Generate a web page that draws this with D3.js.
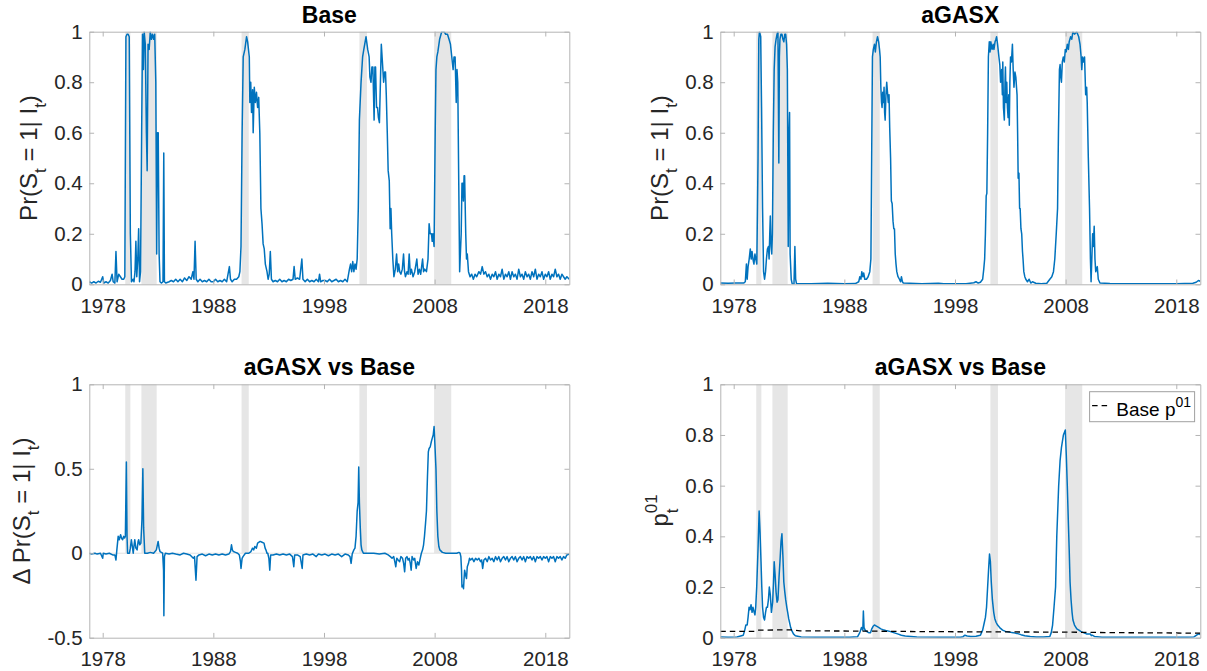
<!DOCTYPE html>
<html><head><meta charset="utf-8">
<script src="https://cdn.jsdelivr.net/npm/d3@7"></script>
<style>html,body{margin:0;padding:0;background:#fff}svg{display:block}</style>
</head><body>
<svg id="c" width="1207" height="671"></svg>
<script>
// ---------------- data ----------------
const xTickYears = [1978, 1988, 1998, 2008, 2018];
const probTicks = [0, 0.2, 0.4, 0.6, 0.8, 1];
const deltaTicks = [-0.5, 0, 0.5, 1];
const recessionStart = [1980.04, 1981.5, 1990.55, 2001.2, 2007.95];
const recessionEnd   = [1980.5, 1982.88, 1991.2, 2001.88, 2009.5];

// Base model: Pr(S_t = 1 | I_t)   [year, value]
const baseProb = [
[1976.8,0.01],[1977.0,0.005],[1977.2,0.01],[1977.4,0.005],[1977.6,0.012],[1977.8,0.008],[1978.0,0.03],[1978.1,0.005],[1978.3,0.01],[1978.5,0.005],[1978.7,0.015],[1978.85,0.04],[1978.95,0.01],[1979.1,0.005],[1979.2,0.13],[1979.3,0.01],[1979.45,0.04],[1979.6,0.03],[1979.75,0.02],[1979.9,0.02],[1980.0,0.03],
[1980.1,0.98],[1980.2,0.99],[1980.3,0.99],[1980.4,0.98],[1980.5,0.2],[1980.6,0.01],[1980.75,0.02],[1980.83,0.01],[1980.92,0.05],[1981.0,0.17],[1981.08,0.03],[1981.17,0.1],[1981.25,0.22],[1981.33,0.01],[1981.42,0.05],
[1981.52,0.6],[1981.6,0.99],[1981.68,0.85],[1981.75,1.0],[1981.85,0.95],[1981.95,0.6],[1982.02,0.45],[1982.1,0.95],[1982.2,0.93],[1982.3,1.0],[1982.4,0.97],[1982.5,0.99],[1982.6,0.97],[1982.7,0.99],[1982.8,0.8],[1982.88,0.12],[1982.95,0.6],[1983.02,0.6],[1983.1,0.12],[1983.18,0.01],[1983.3,0.005],[1983.45,0.01],[1983.52,0.52],[1983.58,0.01],[1983.7,0.005],
[1984.0,0.01],[1984.2,0.015],[1984.4,0.01],[1984.6,0.02],[1984.8,0.01],[1985.0,0.02],[1985.2,0.01],[1985.4,0.025],[1985.6,0.015],[1985.8,0.03],[1986.0,0.02],[1986.15,0.05],[1986.25,0.02],[1986.35,0.17],[1986.45,0.02],[1986.6,0.01],[1986.8,0.02],[1987.0,0.01],[1987.2,0.015],[1987.4,0.01],[1987.6,0.02],[1987.8,0.01],[1988.0,0.01],[1988.2,0.02],[1988.4,0.01],[1988.6,0.015],[1988.8,0.01],[1989.0,0.02],[1989.2,0.01],[1989.45,0.07],[1989.55,0.02],[1989.7,0.01],[1989.9,0.02],[1990.1,0.02],[1990.3,0.03],[1990.4,0.05],
[1990.5,0.15],[1990.6,0.6],[1990.7,0.9],[1990.85,0.93],[1991.0,0.98],[1991.1,0.96],[1991.25,0.9],[1991.3,0.72],[1991.38,0.8],[1991.45,0.68],[1991.55,0.77],[1991.6,0.6],[1991.7,0.78],[1991.8,0.72],[1991.9,0.76],[1992.0,0.7],[1992.1,0.74],[1992.2,0.6],[1992.3,0.3],[1992.4,0.24],[1992.5,0.16],[1992.6,0.14],[1992.7,0.08],[1992.85,0.05],[1992.95,0.02],[1993.05,0.04],[1993.15,0.13],[1993.25,0.02],[1993.4,0.01],[1993.6,0.015],
[1993.8,0.01],[1994.0,0.02],[1994.2,0.01],[1994.4,0.015],[1994.6,0.01],[1994.8,0.02],[1995.0,0.015],[1995.2,0.02],[1995.3,0.07],[1995.4,0.02],[1995.6,0.025],[1995.8,0.02],[1996.0,0.1],[1996.1,0.02],[1996.3,0.01],[1996.5,0.02],[1996.7,0.01],[1996.9,0.015],[1997.1,0.01],[1997.3,0.02],[1997.5,0.01],[1997.6,0.04],[1997.7,0.01],[1997.9,0.015],[1998.1,0.015],[1998.3,0.01],[1998.5,0.02],[1998.7,0.01],[1998.9,0.015],[1999.1,0.02],[1999.3,0.01],[1999.5,0.015],[1999.7,0.01],[1999.9,0.02],[2000.1,0.01],
[2000.3,0.06],[2000.4,0.08],[2000.5,0.05],[2000.6,0.09],[2000.7,0.05],[2000.8,0.08],[2000.9,0.06],[2001.0,0.1],[2001.1,0.3],[2001.2,0.65],[2001.35,0.8],[2001.49,0.9],[2001.6,0.93],[2001.8,0.98],[2001.95,0.93],[2002.08,0.9],[2002.15,0.82],[2002.25,0.8],[2002.33,0.86],[2002.42,0.86],[2002.53,0.65],[2002.6,0.86],[2002.66,0.86],[2002.75,0.7],[2002.84,0.7],[2002.92,0.66],[2003.01,0.64],[2003.1,0.8],[2003.18,0.95],[2003.28,0.88],[2003.39,0.8],[2003.48,0.84],[2003.56,0.84],[2003.63,0.75],[2003.72,0.6],[2003.8,0.45],[2003.9,0.41],[2003.98,0.22],[2004.05,0.3],[2004.12,0.2],[2004.22,0.1],[2004.32,0.03],[2004.45,0.06],[2004.56,0.12],[2004.66,0.05],[2004.75,0.08],[2004.84,0.05],[2004.95,0.04],[2005.08,0.06],[2005.19,0.12],[2005.28,0.05],[2005.36,0.03],[2005.5,0.05],[2005.6,0.04],[2005.7,0.12],[2005.8,0.04],[2005.9,0.06],[2006.05,0.03],[2006.2,0.05],[2006.39,0.1],[2006.5,0.04],[2006.62,0.06],[2006.74,0.04],[2006.91,0.1],[2007.0,0.05],[2007.1,0.06],[2007.26,0.05],[2007.4,0.1],[2007.5,0.24],[2007.6,0.2],[2007.71,0.2],[2007.78,0.17],[2007.84,0.2],[2007.95,0.15],
[2008.05,0.6],[2008.12,0.85],[2008.2,0.9],[2008.29,0.92],[2008.45,0.97],[2008.64,1.0],[2008.85,1.0],[2009.0,0.99],[2009.16,0.99],[2009.3,0.97],[2009.43,0.95],[2009.55,0.9],[2009.67,0.85],[2009.75,0.9],[2009.85,0.9],[2009.95,0.72],[2010.02,0.85],[2010.09,0.8],[2010.18,0.4],[2010.26,0.05],[2010.4,0.2],[2010.47,0.4],[2010.54,0.4],[2010.6,0.33],[2010.66,0.43],[2010.71,0.43],[2010.81,0.2],[2010.88,0.1],[2010.95,0.12],[2011.06,0.05],
[2011.2,0.03],[2011.35,0.04],[2011.5,0.02],[2011.65,0.04],[2011.8,0.03],[2012.0,0.05],[2012.15,0.04],[2012.3,0.07],[2012.45,0.04],[2012.6,0.05],[2012.75,0.03],[2012.9,0.04],[2013.05,0.02],[2013.2,0.04],[2013.35,0.03],[2013.5,0.05],[2013.65,0.02],[2013.8,0.04],[2013.95,0.03],[2014.1,0.06],[2014.25,0.02],[2014.4,0.04],[2014.55,0.03],[2014.7,0.05],[2014.85,0.02],[2015.0,0.05],[2015.15,0.03],[2015.3,0.04],[2015.45,0.02],[2015.6,0.06],[2015.75,0.03],[2015.9,0.04],[2016.05,0.02],[2016.2,0.05],[2016.35,0.03],[2016.5,0.04],[2016.65,0.02],[2016.8,0.05],[2016.95,0.03],[2017.1,0.06],[2017.25,0.02],[2017.4,0.04],[2017.55,0.03],[2017.7,0.05],[2017.85,0.02],[2018.0,0.04],[2018.15,0.03],[2018.3,0.05],[2018.45,0.02],[2018.6,0.04],[2018.75,0.03],[2018.9,0.06],[2019.05,0.03],[2019.2,0.04],[2019.35,0.02],[2019.5,0.04],[2019.65,0.03],[2019.8,0.02],[2019.95,0.03],[2020.17,0.02]
];

// aGASX model: Pr(S_t = 1 | I_t)
const agasxProb = [
[1976.8,0.005],[1977.5,0.004],[1978.2,0.005],[1978.9,0.005],[1979.05,0.01],[1979.15,0.08],[1979.22,0.02],[1979.3,0.07],[1979.4,0.1],[1979.5,0.14],[1979.58,0.1],[1979.66,0.13],[1979.74,0.1],[1979.83,0.08],[1979.92,0.12],[1980.0,0.1],[1980.09,0.08],[1980.15,0.3],[1980.2,0.5],[1980.27,0.97],[1980.33,1.0],[1980.44,0.98],[1980.52,0.7],[1980.61,0.3],[1980.7,0.05],[1980.79,0.02],[1980.88,0.05],[1980.96,0.1],[1981.05,0.14],[1981.14,0.15],[1981.2,0.1],[1981.26,0.2],[1981.31,0.27],[1981.38,0.15],[1981.44,0.12],[1981.5,0.2],[1981.58,0.6],[1981.66,0.85],[1981.74,0.94],[1981.83,0.97],[1981.92,0.99],[1982.0,1.0],[1982.08,0.48],[1982.13,0.9],[1982.18,0.97],[1982.27,0.99],[1982.36,0.99],[1982.45,0.97],[1982.53,0.96],[1982.62,0.99],[1982.7,0.99],[1982.78,0.95],[1982.85,0.85],[1982.93,0.15],[1983.0,0.6],[1983.05,0.68],[1983.1,0.12],[1983.2,0.02],[1983.3,0.0],[1983.45,0.0],[1983.53,0.15],[1983.6,0.02],[1983.68,0.002],
[1985.0,0.002],[1986.5,0.004],[1988.0,0.002],[1989.0,0.003],[1989.3,0.01],[1989.4,0.03],[1989.5,0.02],[1989.58,0.05],[1989.67,0.03],[1989.75,0.045],[1989.85,0.02],[1990.0,0.02],[1990.15,0.03],[1990.3,0.05],[1990.4,0.1],[1990.47,0.5],[1990.54,0.9],[1990.62,0.93],[1990.72,0.95],[1990.8,0.92],[1990.9,0.96],[1991.0,0.98],[1991.1,0.96],[1991.18,0.93],[1991.24,0.9],[1991.3,0.78],[1991.36,0.72],[1991.41,0.7],[1991.47,0.76],[1991.53,0.72],[1991.59,0.78],[1991.64,0.68],[1991.69,0.65],[1991.76,0.75],[1991.83,0.8],[1991.9,0.76],[1991.97,0.72],[1992.04,0.75],[1992.1,0.62],[1992.18,0.5],[1992.25,0.33],[1992.32,0.32],[1992.4,0.25],[1992.47,0.22],[1992.53,0.22],[1992.6,0.12],[1992.67,0.08],[1992.74,0.05],[1992.85,0.03],[1992.98,0.02],[1993.08,0.01],[1993.16,0.03],[1993.25,0.01],[1993.33,0.005],
[1995.0,0.002],[1996.5,0.004],[1997.0,0.002],[1999.0,0.002],[1999.7,0.006],[1999.9,0.01],[2000.1,0.005],[2000.3,0.008],[2000.5,0.02],[2000.6,0.06],[2000.68,0.1],[2000.75,0.2],[2000.82,0.35],[2000.88,0.36],[2000.95,0.6],[2001.02,0.9],[2001.1,0.96],[2001.17,0.92],[2001.24,0.96],[2001.35,0.93],[2001.45,0.95],[2001.52,0.93],[2001.62,0.96],[2001.7,0.97],[2001.76,0.98],[2001.85,0.95],[2001.97,0.9],[2002.05,0.87],[2002.12,0.8],[2002.22,0.85],[2002.28,0.75],[2002.32,0.88],[2002.38,0.7],[2002.46,0.65],[2002.52,0.8],[2002.56,0.86],[2002.62,0.72],[2002.68,0.8],[2002.74,0.7],[2002.8,0.66],[2002.86,0.75],[2002.91,0.63],[2002.96,0.8],[2003.02,0.9],[2003.1,0.88],[2003.19,0.95],[2003.26,0.85],[2003.33,0.78],[2003.42,0.84],[2003.5,0.82],[2003.56,0.78],[2003.61,0.75],[2003.66,0.6],[2003.71,0.42],[2003.78,0.44],[2003.84,0.3],[2003.89,0.3],[2003.96,0.22],[2004.03,0.2],[2004.1,0.13],[2004.15,0.1],[2004.22,0.05],[2004.31,0.03],[2004.4,0.02],[2004.55,0.01],[2004.7,0.02],[2004.85,0.005],[2005.0,0.01],[2005.3,0.004],[2005.8,0.002],[2006.3,0.004],
[2006.57,0.02],[2006.75,0.03],[2006.9,0.05],[2007.02,0.1],[2007.15,0.2],[2007.27,0.3],[2007.35,0.6],[2007.44,0.85],[2007.5,0.87],[2007.56,0.82],[2007.62,0.8],[2007.7,0.88],[2007.79,0.9],[2007.88,0.88],[2007.97,0.93],[2008.05,0.92],[2008.15,0.95],[2008.25,0.93],[2008.32,0.96],[2008.45,0.98],[2008.55,0.97],[2008.66,1.0],[2008.8,0.99],[2009.0,1.0],[2009.18,0.98],[2009.3,0.95],[2009.4,0.9],[2009.46,0.85],[2009.53,0.9],[2009.6,0.88],[2009.71,0.9],[2009.81,0.75],[2009.9,0.78],[2009.95,0.72],[2010.05,0.5],[2010.16,0.3],[2010.24,0.1],[2010.3,0.01],[2010.44,0.2],[2010.5,0.15],[2010.58,0.23],[2010.65,0.1],[2010.72,0.05],[2010.86,0.07],[2010.95,0.02],[2011.1,0.005],
[2012.0,0.003],[2014.0,0.002],[2016.0,0.002],[2018.0,0.002],[2019.5,0.004],[2019.8,0.008],[2020.0,0.015],[2020.17,0.012]
];

// Difference aGASX - Base
const deltaProb = [
[1976.8,0.0],[1977.0,-0.005],[1977.3,0.0],[1977.5,-0.005],[1977.8,0.0],[1978.0,-0.03],[1978.05,0.0],[1978.3,-0.005],[1978.6,0.0],[1978.9,-0.01],[1979.1,-0.01],[1979.2,-0.04],[1979.28,0.02],[1979.4,0.1],[1979.5,0.08],[1979.62,0.11],[1979.7,0.09],[1979.8,0.08],[1979.9,0.1],[1979.97,0.09],[1980.05,0.1],[1980.14,0.54],[1980.2,0.1],[1980.25,0.0],[1980.42,0.0],[1980.5,0.03],[1980.59,0.08],[1980.68,0.04],[1980.76,0.0],[1980.84,0.05],[1980.9,0.08],[1981.0,0.03],[1981.11,0.02],[1981.2,0.07],[1981.25,0.08],[1981.35,0.05],[1981.45,0.06],[1981.55,0.2],[1981.63,0.5],[1981.7,0.15],[1981.8,0.0],[1982.04,0.0],[1982.3,0.005],[1982.6,0.0],[1982.85,0.02],[1983.01,0.07],[1983.1,0.03],[1983.18,0.01],[1983.42,0.0],[1983.5,-0.1],[1983.53,-0.37],[1983.58,-0.02],[1983.66,0.0],
[1984.0,-0.005],[1984.3,0.0],[1984.6,-0.005],[1985.0,-0.01],[1985.3,0.0],[1985.6,-0.005],[1985.9,-0.01],[1986.19,-0.03],[1986.3,-0.02],[1986.43,-0.16],[1986.53,-0.02],[1986.7,-0.01],[1987.0,-0.005],[1987.3,-0.015],[1987.6,-0.005],[1987.9,-0.01],[1988.2,-0.005],[1988.5,-0.01],[1988.8,-0.005],[1989.1,-0.01],[1989.4,-0.005],[1989.55,0.01],[1989.64,0.05],[1989.72,0.02],[1989.81,0.01],[1990.0,0.005],[1990.2,0.0],[1990.35,-0.01],[1990.45,-0.05],[1990.5,-0.09],[1990.6,-0.03],[1990.68,-0.02],[1990.9,0.0],[1991.2,0.0],[1991.4,0.01],[1991.54,0.03],[1991.65,0.02],[1991.75,0.04],[1991.89,0.03],[1992.0,0.06],[1992.23,0.07],[1992.4,0.065],[1992.58,0.06],[1992.68,0.03],[1992.75,0.02],[1992.85,0.0],[1992.92,0.0],[1993.02,-0.03],[1993.1,-0.1],[1993.18,-0.01],[1993.4,-0.01],[1993.7,-0.005],[1994.0,-0.01],[1994.3,-0.005],[1994.6,-0.01],[1994.9,-0.005],[1995.15,-0.02],[1995.27,-0.08],[1995.35,-0.01],[1995.6,-0.01],[1995.85,-0.02],[1996.03,-0.09],[1996.1,-0.01],[1996.4,-0.005],[1996.7,-0.01],[1997.0,-0.005],[1997.3,-0.02],[1997.5,-0.005],[1997.8,-0.01],[1998.1,-0.005],[1998.4,-0.015],[1998.7,-0.005],[1999.0,-0.01],[1999.3,-0.005],[1999.6,-0.02],[1999.9,-0.005],[2000.2,-0.01],[2000.35,-0.02],[2000.45,-0.06],[2000.55,-0.005],[2000.7,0.02],[2000.8,0.03],[2000.9,0.1],[2001.0,0.25],[2001.08,0.3],[2001.14,0.51],[2001.2,0.3],[2001.28,0.15],[2001.35,0.05],[2001.42,0.02],[2001.56,0.0],[2002.0,0.0],[2002.5,0.0],[2003.0,-0.005],[2003.5,0.0],[2003.8,-0.01],[2004.0,-0.02],[2004.15,-0.03],[2004.3,-0.02],[2004.4,-0.05],[2004.49,-0.08],[2004.58,-0.03],[2004.7,-0.04],[2004.84,-0.05],[2004.95,-0.02],[2005.1,-0.03],[2005.2,-0.06],[2005.29,-0.11],[2005.38,-0.03],[2005.5,-0.02],[2005.6,-0.04],[2005.7,-0.03],[2005.8,-0.06],[2005.88,-0.1],[2005.96,-0.02],[2006.1,-0.04],[2006.2,-0.03],[2006.33,-0.09],[2006.45,-0.05],[2006.57,-0.07],[2006.7,-0.03],[2006.8,0.0],[2006.91,0.02],[2007.0,0.05],[2007.08,0.1],[2007.18,0.18],[2007.26,0.25],[2007.35,0.45],[2007.43,0.6],[2007.5,0.62],[2007.6,0.63],[2007.7,0.66],[2007.78,0.68],[2007.87,0.7],[2007.95,0.75],[2008.02,0.65],[2008.12,0.5],[2008.2,0.25],[2008.29,0.1],[2008.38,0.04],[2008.47,0.02],[2008.7,0.005],[2009.0,0.0],[2009.5,0.0],[2010.0,0.0],[2010.19,0.005],[2010.3,0.0],[2010.37,-0.02],[2010.43,-0.1],[2010.47,-0.2],[2010.55,-0.19],[2010.61,-0.21],[2010.66,-0.15],[2010.71,-0.1],[2010.8,-0.13],[2010.88,-0.15],[2010.95,-0.08],[2011.06,-0.06],
[2011.15,-0.03],[2011.25,-0.04],[2011.4,-0.03],[2011.55,-0.05],[2011.7,-0.03],[2011.85,-0.04],[2012.0,-0.03],[2012.15,-0.05],[2012.25,-0.04],[2012.34,-0.09],[2012.45,-0.04],[2012.6,-0.03],[2012.75,-0.05],[2012.9,-0.02],[2013.05,-0.04],[2013.2,-0.03],[2013.35,-0.05],[2013.5,-0.02],[2013.65,-0.04],[2013.8,-0.02],[2013.95,-0.05],[2014.1,-0.03],[2014.25,-0.02],[2014.4,-0.04],[2014.55,-0.02],[2014.7,-0.05],[2014.85,-0.03],[2015.0,-0.02],[2015.15,-0.04],[2015.3,-0.02],[2015.45,-0.05],[2015.6,-0.03],[2015.75,-0.02],[2015.9,-0.04],[2016.05,-0.02],[2016.2,-0.05],[2016.35,-0.02],[2016.5,-0.03],[2016.65,-0.02],[2016.8,-0.04],[2016.95,-0.02],[2017.1,-0.05],[2017.25,-0.02],[2017.4,-0.03],[2017.55,-0.02],[2017.7,-0.04],[2017.85,-0.02],[2018.0,-0.03],[2018.15,-0.02],[2018.3,-0.05],[2018.45,-0.02],[2018.6,-0.03],[2018.75,-0.02],[2018.9,-0.05],[2019.05,-0.02],[2019.2,-0.03],[2019.35,-0.02],[2019.5,-0.04],[2019.65,-0.02],[2019.8,-0.03],[2019.95,-0.01],[2020.17,-0.005]
];

// aGASX time-varying transition probability p_t^01
const agasxP01 = [
[1976.8,0.003],[1977.5,0.002],[1978.3,0.003],[1978.87,0.01],[1979.0,0.03],[1979.1,0.05],[1979.22,0.05],[1979.3,0.08],[1979.39,0.12],[1979.47,0.11],[1979.57,0.13],[1979.66,0.1],[1979.74,0.12],[1979.85,0.1],[1979.92,0.09],[1979.99,0.12],[1980.08,0.2],[1980.2,0.35],[1980.3,0.5],[1980.38,0.42],[1980.47,0.3],[1980.54,0.2],[1980.61,0.12],[1980.7,0.08],[1980.79,0.07],[1980.88,0.1],[1980.96,0.12],[1981.05,0.12],[1981.14,0.15],[1981.22,0.2],[1981.31,0.17],[1981.41,0.1],[1981.52,0.14],[1981.6,0.22],[1981.66,0.3],[1981.74,0.25],[1981.83,0.18],[1981.92,0.14],[1982.0,0.15],[1982.1,0.24],[1982.18,0.3],[1982.28,0.38],[1982.36,0.41],[1982.45,0.32],[1982.53,0.22],[1982.62,0.18],[1982.7,0.15],[1982.8,0.12],[1982.88,0.1],[1982.97,0.075],[1983.05,0.06],[1983.15,0.04],[1983.23,0.03],[1983.4,0.015],[1983.57,0.008],[1984.1,0.003],
[1985.5,0.002],[1987.0,0.002],[1988.5,0.002],[1989.2,0.004],[1989.4,0.02],[1989.55,0.04],[1989.67,0.03],[1989.72,0.105],[1989.78,0.04],[1989.88,0.03],[1990.0,0.025],[1990.2,0.02],[1990.37,0.02],[1990.48,0.035],[1990.6,0.045],[1990.72,0.05],[1990.9,0.046],[1991.06,0.042],[1991.3,0.035],[1991.59,0.03],[1991.85,0.027],[1992.11,0.025],[1992.45,0.02],[1992.81,0.015],[1993.15,0.01],[1993.5,0.007],[1994.0,0.005],[1994.55,0.003],[1996.64,0.002],[1998.5,0.002],[1998.73,0.004],[1998.9,0.01],[1999.1,0.007],[1999.43,0.005],[1999.9,0.006],
[2000.3,0.01],[2000.5,0.03],[2000.65,0.06],[2000.75,0.08],[2000.85,0.12],[2000.95,0.2],[2001.05,0.28],[2001.12,0.33],[2001.2,0.3],[2001.28,0.22],[2001.38,0.15],[2001.5,0.1],[2001.6,0.075],[2001.72,0.06],[2001.85,0.05],[2002.04,0.04],[2002.3,0.03],[2002.56,0.025],[2002.9,0.022],[2003.26,0.02],[2003.6,0.017],[2003.96,0.012],[2004.31,0.008],[2004.8,0.005],[2005.35,0.003],[2006.0,0.003],[2006.57,0.005],[2006.7,0.02],[2006.82,0.05],[2006.95,0.12],[2007.09,0.2],[2007.2,0.4],[2007.37,0.6],[2007.5,0.7],[2007.62,0.75],[2007.8,0.8],[2007.97,0.82],[2008.06,0.72],[2008.15,0.6],[2008.25,0.45],[2008.32,0.35],[2008.4,0.22],[2008.49,0.15],[2008.58,0.1],[2008.66,0.07],[2008.8,0.05],[2009.01,0.035],[2009.2,0.03],[2009.36,0.025],[2009.6,0.02],[2009.88,0.015],[2010.1,0.015],[2010.23,0.015],[2010.32,0.008],[2010.4,0.01],[2010.6,0.005],[2011.28,0.002],
[2013.0,0.002],[2015.0,0.002],[2017.0,0.002],[2019.0,0.002],[2019.6,0.003],[2019.9,0.012],[2020.05,0.015],[2020.17,0.012]
];

// Base model constant-ish p^01 (dashed)
const baseP01 = [
[1976.79,0.025],[1979.9,0.025],[1980.2,0.03],[1983.3,0.031],[1984.0,0.027],[1990.0,0.026],[1995.0,0.024],[2001.0,0.023],[2008.0,0.022],[2012.0,0.02],[2020.17,0.018]
];

const titles = ["Base", "aGASX", "aGASX vs Base", "aGASX vs Base"];

// ---------------- drawing ----------------
const FONT = '"Liberation Sans", Arial, Helvetica, sans-serif';
const TXT = "#262626", AX = "#b4b4b4", BLUE = "#0072BD", SHADE = "#e6e6e6";
const xDomain = [1976.79, 2020.17];
const svg = d3.select("#c");
const fmtY = d => String(+(+d).toFixed(2));

const panels = [
  {left:89.3, top:31.7, w:480, h:252.6, yDom:[0,1], yTicks:probTicks, title:titles[0], data:baseProb, lab:"pr", labX:37},
  {left:720.3, top:31.7, w:480, h:252.6, yDom:[0,1], yTicks:probTicks, title:titles[1], data:agasxProb, lab:"pr", labX:668},
  {left:89.3, top:384.3, w:480, h:253.4, yDom:[-0.5,1], yTicks:deltaTicks, title:titles[2], data:deltaProb, lab:"dpr", labX:30},
  {left:720.3, top:384.3, w:480, h:253.4, yDom:[0,1], yTicks:probTicks, title:titles[3], data:agasxP01, lab:"p01", labX:668, dashed:baseP01, legend:true}
];

panels.forEach((p, i) => {
  const x = d3.scaleLinear().domain(xDomain).range([p.left, p.left + p.w]);
  const y = d3.scaleLinear().domain(p.yDom).range([p.top + p.h, p.top]);
  const g = svg.append("g");

  const clipId = "clip" + i;
  svg.append("clipPath").attr("id", clipId).append("rect")
    .attr("x", p.left).attr("y", p.top).attr("width", p.w).attr("height", p.h);

  // recession shading (area from 0 to 1)
  g.append("g").selectAll("rect").data(d3.range(recessionStart.length)).join("rect")
    .attr("x", k => x(recessionStart[k]))
    .attr("width", k => x(recessionEnd[k]) - x(recessionStart[k]))
    .attr("y", y(1)).attr("height", y(0) - y(1))
    .attr("fill", SHADE);

  if (p.yDom[0] < 0) {
    g.append("line").attr("x1", p.left).attr("x2", p.left + p.w)
      .attr("y1", y(0)).attr("y2", y(0)).attr("stroke", "#e2e2e2").attr("stroke-width", 1);
  }

  const line = d3.line().x(d => x(d[0])).y(d => y(d[1]));
  g.append("path").datum(p.data).attr("d", line)
    .attr("fill", "none").attr("stroke", BLUE).attr("stroke-width", 1.5)
    .attr("stroke-linejoin", "round").attr("clip-path", `url(#${clipId})`);

  if (p.dashed) {
    g.append("path").datum(p.dashed).attr("d", line)
      .attr("fill", "none").attr("stroke", "#000").attr("stroke-width", 1.3)
      .attr("stroke-dasharray", "5.5,4").attr("clip-path", `url(#${clipId})`);
  }

  // axes (box with inward ticks on all sides)
  const tl = 4.8;
  const style = sel => {
    sel.attr("font-family", FONT).attr("font-size", 20.5);
    sel.select(".domain").attr("stroke", AX).attr("stroke-width", 1);
    sel.selectAll(".tick line").attr("stroke", AX);
    sel.selectAll(".tick text").attr("fill", TXT);
  };
  svg.append("g").attr("transform", `translate(0,${p.top + p.h})`)
    .call(d3.axisBottom(x).tickValues(xTickYears).tickFormat(d => String(d)).tickSizeInner(-tl).tickSizeOuter(0).tickPadding(14))
    .call(style);
  svg.append("g").attr("transform", `translate(0,${p.top})`)
    .call(d3.axisTop(x).tickValues(xTickYears).tickFormat("").tickSizeInner(-tl).tickSizeOuter(0))
    .call(style);
  svg.append("g").attr("transform", `translate(${p.left},0)`)
    .call(d3.axisLeft(y).tickValues(p.yTicks).tickFormat(fmtY).tickSizeInner(-tl).tickSizeOuter(0).tickPadding(6.6))
    .call(style);
  svg.append("g").attr("transform", `translate(${p.left + p.w},0)`)
    .call(d3.axisRight(y).tickValues(p.yTicks).tickFormat("").tickSizeInner(-tl).tickSizeOuter(0))
    .call(style);

  // title
  svg.append("text").attr("x", p.left + p.w / 2).attr("y", p.top - 9)
    .attr("text-anchor", "middle").attr("font-family", FONT).attr("font-size", 23)
    .attr("font-weight", "bold").attr("fill", "#000").text(p.title);

  // y label
  const cy = p.top + p.h / 2;
  const lg = svg.append("g").attr("transform", `translate(${p.labX},${cy}) rotate(-90)`)
    .attr("font-family", FONT).attr("fill", TXT);
  if (p.lab === "p01") {
    lg.append("text").attr("x", -15.5).attr("y", 0).attr("font-size", 24).text("p");
    lg.append("text").attr("x", -2.2).attr("y", 10).attr("font-size", 17).text("t");
    lg.append("text").attr("x", -2.2).attr("y", -11).attr("font-size", 17).text("01");
  } else {
    const t = lg.append("text").attr("text-anchor", "middle").attr("font-size", 24);
    t.append("tspan").text(p.lab === "dpr" ? "\u0394 Pr(S" : "Pr(S");
    t.append("tspan").attr("font-size", 17).attr("dy", 9).text("t");
    t.append("tspan").attr("font-size", 24).attr("dy", -9).text(" = 1| I");
    t.append("tspan").attr("font-size", 17).attr("dy", 9).text("t");
    t.append("tspan").attr("font-size", 24).attr("dy", -9).text(")");
  }

  if (p.legend) {
    const bx = p.left + p.w - 5.7 - 105, by = p.top + 7.4;
    const lgd = svg.append("g");
    lgd.append("rect").attr("x", bx).attr("y", by).attr("width", 105).attr("height", 30)
      .attr("fill", "#fff").attr("stroke", "#a0a0a0").attr("stroke-width", 1);
    lgd.append("line").attr("x1", bx + 2.5).attr("x2", bx + 21).attr("y1", by + 14).attr("y2", by + 14)
      .attr("stroke", "#000").attr("stroke-width", 1.3).attr("stroke-dasharray", "5.5,4");
    const lt = lgd.append("text").attr("x", bx + 26.7).attr("y", by + 24)
      .attr("font-family", FONT).attr("font-size", 19).attr("fill", "#000");
    lt.append("tspan").text("Base p");
    lt.append("tspan").attr("font-size", 14).attr("dy", -9).text("01");
  }
});
</script>
</body></html>
